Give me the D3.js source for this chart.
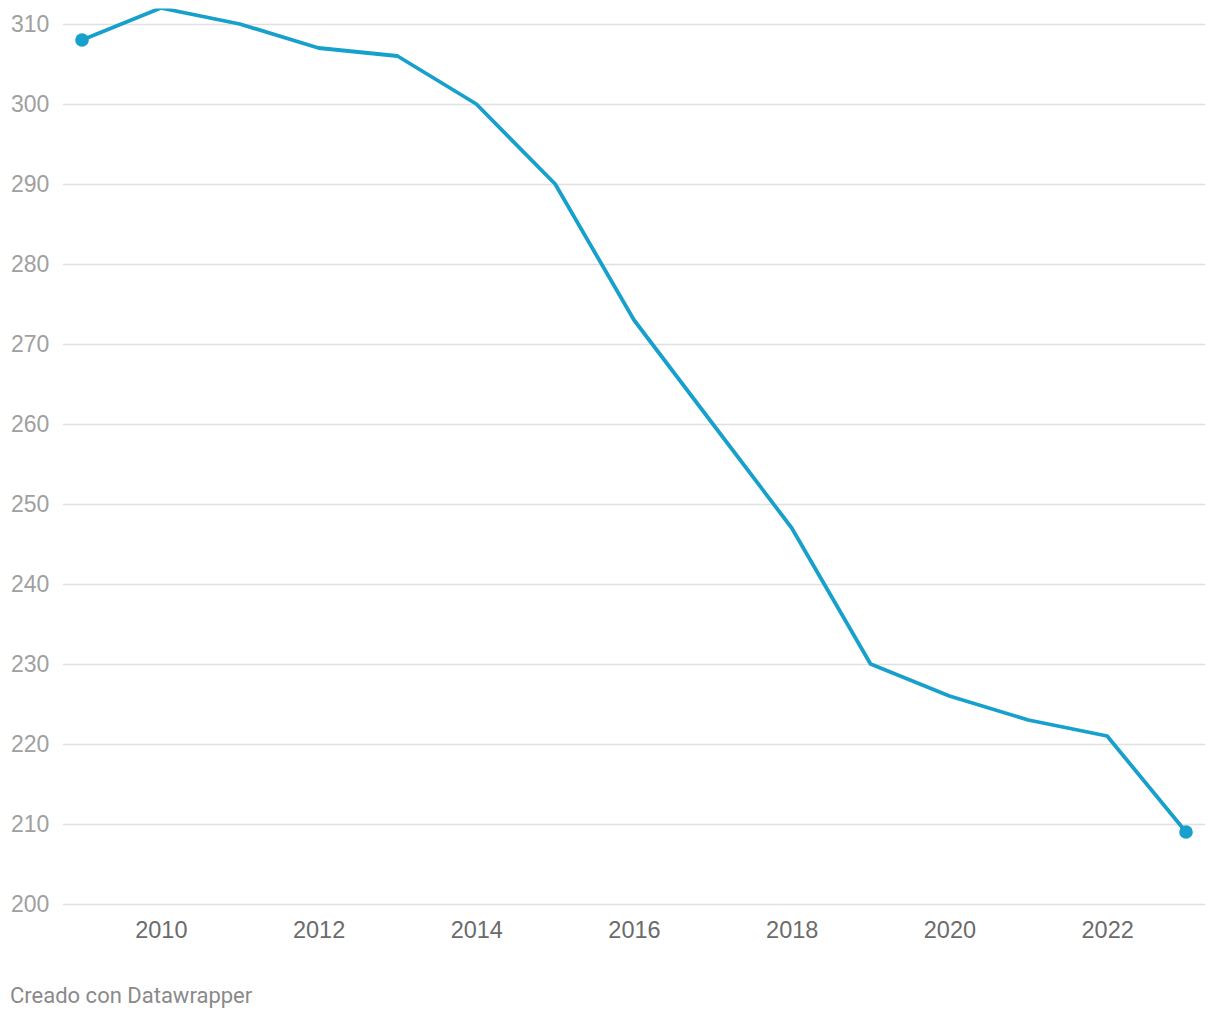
<!DOCTYPE html>
<html>
<head>
<meta charset="utf-8">
<script src="https://cdn.jsdelivr.net/npm/d3@7"></script>
<style>
  body { margin: 0; background: #fff; }
  svg { font-family: Roboto, "Noto Sans", sans-serif; }
</style>
</head>
<body>
<svg id="chart" width="1220" height="1020"></svg>
<script>
const years = [2009, 2010, 2011, 2012, 2013, 2014, 2015, 2016, 2017, 2018, 2019, 2020, 2021, 2022, 2023];
const values = [308, 312, 310, 307, 306, 300, 290, 273, 260, 247, 230, 226, 223, 221, 209];
const yTicks = [200, 210, 220, 230, 240, 250, 260, 270, 280, 290, 300, 310];
const xTicks = [2010, 2012, 2014, 2016, 2018, 2020, 2022];
const footer = "Creado con Datawrapper";

const svg = d3.select("#chart");
const x = d3.scaleLinear().domain([2009, 2023]).range([82, 1186]);
const y = d3.scaleLinear().domain([200, 310]).range([904, 24]);
const gridRight = 1205, gridLeft = 63;

// y axis / gridlines
const yAxis = svg.append("g")
  .attr("transform", `translate(${gridRight},0)`)
  .call(d3.axisLeft(y).tickValues(yTicks).tickSize(gridRight - gridLeft).tickFormat(d3.format("d")));
yAxis.select(".domain").remove();
yAxis.selectAll(".tick line").attr("stroke", "#e0e0e0").attr("stroke-width", 1.5);
yAxis.selectAll(".tick text")
  .attr("x", -(gridRight - 11))
  .attr("text-anchor", "start")
  .attr("fill", "#a0a0a0")
  .style("font-size", "23px");

// x axis
const xAxis = svg.append("g")
  .attr("transform", `translate(0,904)`)
  .call(d3.axisBottom(x).tickValues(xTicks).tickSize(0).tickPadding(17).tickFormat(d3.format("d")));
xAxis.select(".domain").remove();
xAxis.selectAll(".tick text").attr("fill", "#6b6b6b").style("font-size", "23.5px");

// clip
svg.append("clipPath").attr("id", "clip")
  .append("rect").attr("x", 0).attr("y", 8.5).attr("width", 1220).attr("height", 1000);

const data = years.map((yr, i) => ({ yr, v: values[i] }));
const line = d3.line().x(d => x(d.yr)).y(d => y(d.v));

svg.append("path")
  .datum(data)
  .attr("clip-path", "url(#clip)")
  .attr("fill", "none")
  .attr("stroke", "#18a0cc")
  .attr("stroke-width", 3.8)
  .attr("stroke-linejoin", "round")
  .attr("d", line);

svg.selectAll("circle.end")
  .data([data[0], data[data.length - 1]])
  .enter().append("circle")
  .attr("class", "end")
  .attr("cx", d => x(d.yr))
  .attr("cy", d => y(d.v))
  .attr("r", 6.8)
  .attr("fill", "#18a0cc");

svg.append("text")
  .attr("x", 10).attr("y", 1003)
  .attr("fill", "#8a8a8a")
  .style("font-size", "22px")
  .text(footer);
</script>
</body>
</html>
